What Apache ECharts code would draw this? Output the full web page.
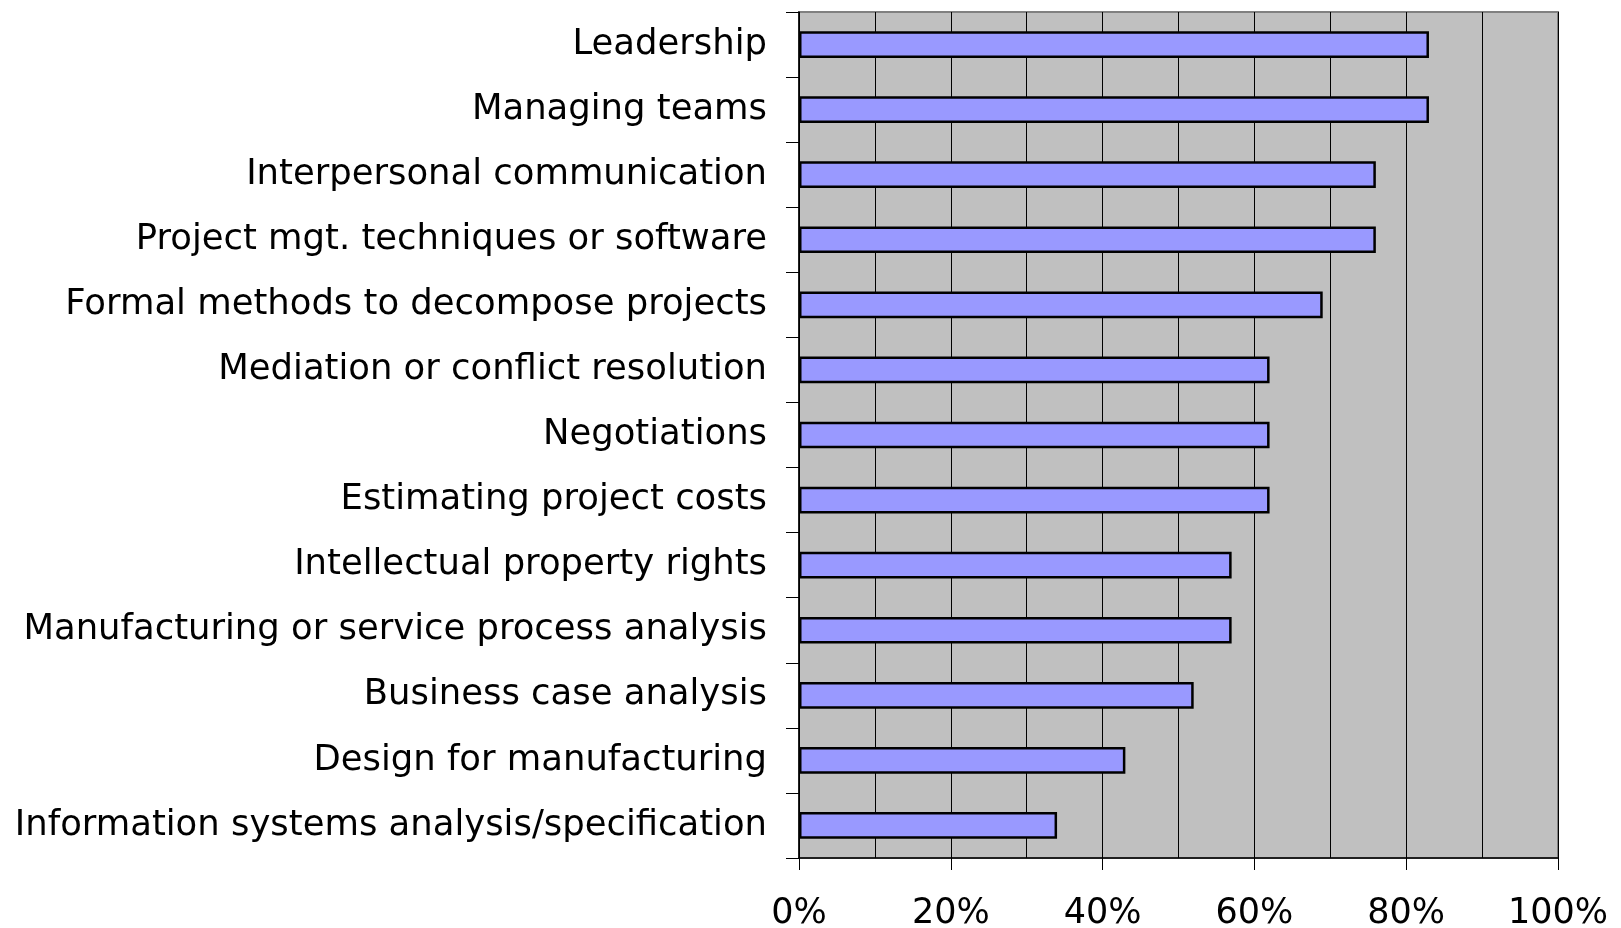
<!DOCTYPE html>
<html>
<head>
<meta charset="utf-8">
<script src="https://cdn.jsdelivr.net/npm/echarts@6/dist/echarts.min.js"></script>
<style>
html,body{margin:0;padding:0;background:#fff;}
#chart{width:1621px;height:928px;}
</style>
</head>
<body>
<div id="chart"></div>
<script>
const categories = [
  "Leadership",
  "Managing teams",
  "Interpersonal communication",
  "Project mgt. techniques or software",
  "Formal methods to decompose projects",
  "Mediation or conflict resolution",
  "Negotiations",
  "Estimating project costs",
  "Intellectual property rights",
  "Manufacturing or service process analysis",
  "Business case analysis",
  "Design for manufacturing",
  "Information systems analysis/specification"
];
const values = [83, 83, 76, 76, 69, 62, 62, 62, 57, 57, 52, 43, 34];
const xTicks = [0, 20, 40, 60, 80, 100];

const chart = echarts.init(document.getElementById('chart'), null, {renderer: 'canvas'});
const font = '"DejaVu Sans", sans-serif';
chart.setOption({
  animation: false,
  backgroundColor: '#ffffff',
  grid: {
    left: 799, right: 63, top: 12, bottom: 70,
    show: true, backgroundColor: '#c0c0c0', borderColor: '#808080', borderWidth: 2,
    containLabel: false, outerBoundsMode: 'none'
  },
  xAxis: {
    type: 'value', min: xTicks[0], max: xTicks[xTicks.length - 1], interval: 20,
    axisLine: {show: true, lineStyle: {color: '#000', width: 1.5}},
    axisTick: {show: true, length: 12, lineStyle: {color: '#000', width: 1}},
    axisLabel: {formatter: '{value}%', fontFamily: font, fontSize: 35, color: '#000', margin: 38},
    splitLine: {show: true, lineStyle: {color: '#000', width: 1}},
    minorTick: {show: false, splitNumber: 2},
    minorSplitLine: {show: true, lineStyle: {color: '#000', width: 1}}
  },
  yAxis: {
    type: 'category', data: categories, inverse: true,
    axisLine: {show: true, lineStyle: {color: '#000', width: 1.5}},
    axisTick: {show: true, length: 13, lineStyle: {color: '#000', width: 1}},
    axisLabel: {fontFamily: font, fontSize: 35.4, color: '#000', margin: 32, padding: [6, 0, 0, 0]},
    splitLine: {show: false}
  },
  series: [{
    type: 'bar', data: values, barWidth: '41%',
    itemStyle: {color: '#9999ff', borderColor: '#000', borderWidth: 2.5}
  }]
});
</script>
</body>
</html>
